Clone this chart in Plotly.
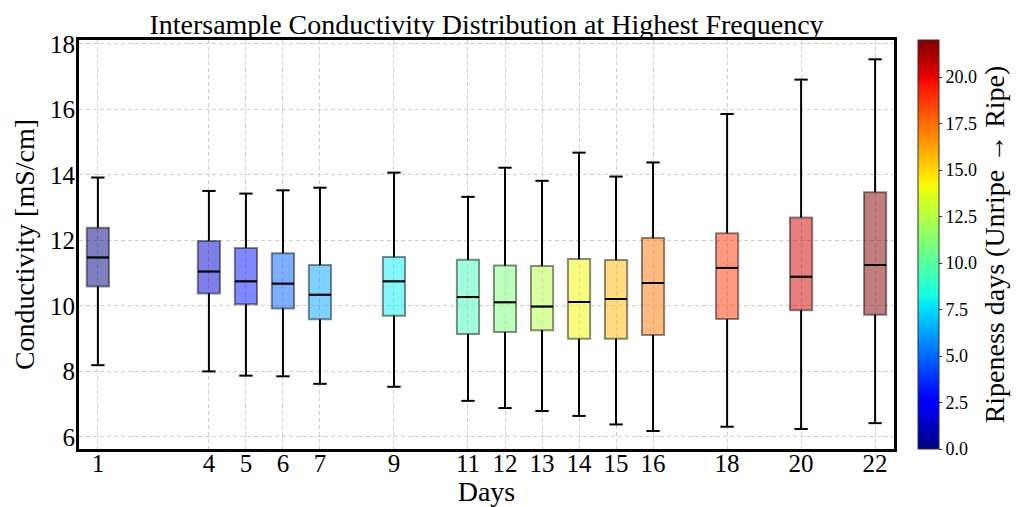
import plotly.graph_objects as go

# ---------------- data ----------------
days = [1, 4, 5, 6, 7, 9, 11, 12, 13, 14, 15, 16, 18, 20, 22]
lower_whisker = [8.19, 8.00, 7.87, 7.85, 7.62, 7.53, 7.10, 6.88, 6.79, 6.64, 6.38, 6.18, 6.31, 6.24, 6.42]
q1_vals = [10.59, 10.38, 10.05, 9.92, 9.59, 9.70, 9.14, 9.20, 9.26, 9.00, 9.00, 9.11, 9.60, 9.87, 9.73]
median_vals = [11.48, 11.05, 10.75, 10.68, 10.34, 10.75, 10.27, 10.11, 9.98, 10.12, 10.21, 10.70, 11.16, 10.89, 11.25]
q3_vals = [12.39, 11.98, 11.77, 11.61, 11.25, 11.49, 11.41, 11.23, 11.22, 11.43, 11.40, 12.07, 12.22, 12.70, 13.47]
upper_whisker = [13.92, 13.51, 13.43, 13.53, 13.61, 14.07, 13.33, 14.22, 13.82, 14.68, 13.95, 14.38, 15.86, 16.91, 17.53]
yticks = [6, 8, 10, 12, 14, 16, 18]
cbar_ticks = [0.0, 2.5, 5.0, 7.5, 10.0, 12.5, 15.0, 17.5, 20.0]

# ---------------- style helpers ----------------
FONT = "Liberation Serif, DejaVu Serif, serif"
FS = 28
TFS = 25
BOX_W = 0.6
CAP_HALF = 0.18

# matplotlib 'jet' segment data
_jet = {
    "r": [(0, 0), (0.35, 0), (0.66, 1), (0.89, 1), (1, 0.5)],
    "g": [(0, 0), (0.125, 0), (0.375, 1), (0.64, 1), (0.91, 0), (1, 0)],
    "b": [(0, 0.5), (0.11, 1), (0.34, 1), (0.65, 0), (1, 0)],
}


def _interp(pts, x):
    for (x0, y0), (x1, y1) in zip(pts[:-1], pts[1:]):
        if x0 <= x <= x1:
            return y0 + (y1 - y0) * (x - x0) / (x1 - x0) if x1 > x0 else y1
    return pts[-1][1]


def jet(x):
    x = min(max(x, 0.0), 1.0)
    return tuple(int(round(255 * _interp(_jet[c], x))) for c in "rgb")


stops = sorted({p[0] for c in "rgb" for p in _jet[c]})
jet_scale = [[s, "rgb(%d,%d,%d)" % jet(s)] for s in stops]

fig = go.Figure()

n = len(days)
for i, d in enumerate(days):
    r, g, b = jet(i / (n - 1))
    fig.add_trace(go.Box(
        x=[d], q1=[q1_vals[i]], median=[median_vals[i]], q3=[q3_vals[i]],
        lowerfence=[q1_vals[i]], upperfence=[q3_vals[i]],
        width=BOX_W, whiskerwidth=0,
        fillcolor="rgba(%d,%d,%d,0.5)" % (r, g, b),
        line=dict(color="rgba(0,0,0,0.45)", width=2),
        boxpoints=False, showlegend=False, hoverinfo="skip",
    ))

# whiskers + caps
wx, wy = [], []
for i, d in enumerate(days):
    wx += [d, d, None, d, d, None,
           d - CAP_HALF, d + CAP_HALF, None, d - CAP_HALF, d + CAP_HALF, None]
    wy += [lower_whisker[i], q1_vals[i], None, q3_vals[i], upper_whisker[i], None,
           lower_whisker[i], lower_whisker[i], None, upper_whisker[i], upper_whisker[i], None]
fig.add_trace(go.Scatter(x=wx, y=wy, mode="lines", line=dict(color="black", width=2),
                         showlegend=False, hoverinfo="skip"))

# medians
mx, my = [], []
for i, d in enumerate(days):
    mx += [d - BOX_W / 2, d + BOX_W / 2, None]
    my += [median_vals[i], median_vals[i], None]
fig.add_trace(go.Scatter(x=mx, y=my, mode="lines", line=dict(color="black", width=2),
                         showlegend=False, hoverinfo="skip"))

# colorbar carrier
fig.add_trace(go.Scatter(
    x=[days[0]], y=[median_vals[0]], mode="markers",
    marker=dict(size=1, opacity=0, color=[0], colorscale=jet_scale, cmin=0, cmax=22,
                showscale=True,
                colorbar=dict(
                    x=1.0294, xanchor="left", xpad=0, y=0.5, yanchor="middle", len=1.0,
                    lenmode="fraction", thickness=21, ypad=0,
                    outlinecolor="#333", outlinewidth=1,
                    tickmode="array", tickvals=cbar_ticks,
                    ticktext=["%.1f" % t for t in cbar_ticks],
                    ticks="outside", ticklen=3, tickcolor="#333",
                    tickfont=dict(family=FONT, size=18, color="black"),
                    title=dict(text="Ripeness days (Unripe → Ripe)", side="right",
                               font=dict(family=FONT, size=28, color="black")),
                )),
    showlegend=False, hoverinfo="skip",
))

fig.update_layout(
    width=1019, height=507,
    margin=dict(l=79, r=125, t=40, b=58, autoexpand=False),
    paper_bgcolor="white", plot_bgcolor="white",
    boxmode="overlay",
    font=dict(family=FONT, color="black"),
    title=dict(text="Intersample Conductivity Distribution at Highest Frequency",
               x=0.5, xanchor="center", xref="paper",
               y=1 - 24 / 507, yref="container", yanchor="middle",
               font=dict(family=FONT, size=FS, color="black")),
    showlegend=False,
)
fig.update_xaxes(
    range=[0.49, 22.51], tickmode="array", tickvals=days, ticktext=[str(d) for d in days],
    tickfont=dict(family=FONT, size=TFS), ticks="", automargin=False, ticklabelstandoff=-10,
    showgrid=True, gridcolor="#d0d0d0", gridwidth=1, griddash="4px,3px",
    showline=True, linecolor="black", linewidth=3, mirror=True, zeroline=False,
    title=dict(text="Days", font=dict(family=FONT, size=FS), standoff=2),
)
fig.update_yaxes(
    range=[5.63, 18.12], tickmode="array", tickvals=yticks, ticktext=[str(t) for t in yticks],
    tickfont=dict(family=FONT, size=TFS), ticks="", automargin=False, ticklabelstandoff=-4,
    showgrid=True, gridcolor="#d0d0d0", gridwidth=1, griddash="4px,3px",
    showline=True, linecolor="black", linewidth=3, mirror=True, zeroline=False,
    title=dict(text="Conductivity [mS/cm]", font=dict(family=FONT, size=FS), standoff=8),
)

fig.write_html("out.html", config={"displayModeBar": False},
               post_script="document.body.style.margin='0';")
